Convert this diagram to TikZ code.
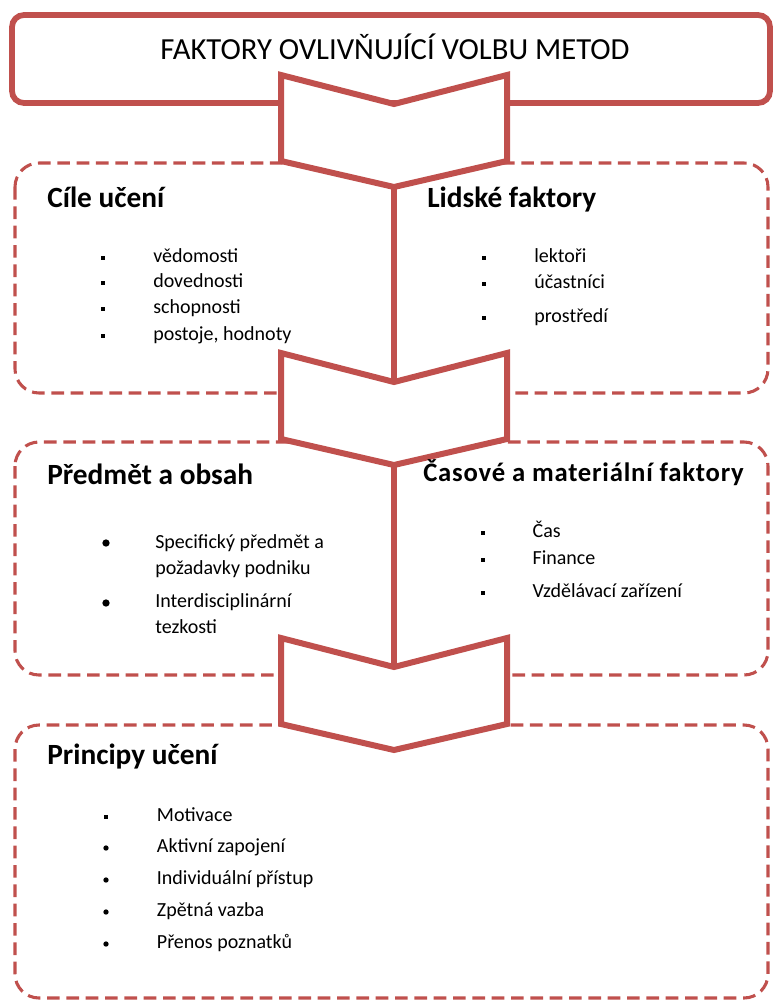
\documentclass[tikz,border=0pt]{standalone}
\usepackage{fontspec}
\setmainfont{Carlito}
\usetikzlibrary{positioning}

\definecolor{accred}{HTML}{C0504D}

\tikzset{
    titlebox/.style={draw=accred, line width=4.3pt, rounded corners=9pt},
    group/.style={draw=accred, line width=2.3pt, dash pattern=on 9.5pt off 5pt, rounded corners=18pt},
    chevron/.style={draw=accred, line width=4.5pt, fill=white, line join=miter},
    spine/.style={draw=accred, line width=4.3pt},
    title/.style={font=\fontsize{23}{27}\selectfont, inner sep=0pt},
    heading/.style={anchor=west, font=\bfseries\fontsize{22}{26}\selectfont, inner sep=0pt, text height=15pt, text depth=4pt},
    subheading/.style={anchor=west, font=\bfseries\fontsize{20}{24}\selectfont\addfontfeatures{LetterSpace=3}, inner sep=0pt, text height=13pt, text depth=4pt},
    item/.style={anchor=west, font=\fontsize{15}{19.5}\selectfont, inner sep=0pt, text height=10pt, text depth=3.5pt},
    longitem/.style={anchor=north west, align=left, font=\fontsize{15}{19.5}\selectfont, inner sep=0pt},
    sqbullet/.style={rectangle, fill=black, inner sep=0pt, minimum size=3.2pt},
    dotbullet/.style={circle, fill=black, inner sep=0pt, minimum size=4pt},
    bigdot/.style={circle, fill=black, inner sep=0pt, minimum size=5.5pt}
}

\begin{document}
\begin{tikzpicture}[x=0.75pt, y=-0.75pt]
    \useasboundingbox (0,0) rectangle (773,1001);

    % title box
    \draw[titlebox] (12,15) rectangle (770,103);
    \node[title] (title) at (395,47) {FAKTORY OVLIVŇUJÍCÍ VOLBU METOD};

    % groups
    \foreach \top/\bot in {163/393, 442/675, 725/998}{
        \draw[group] (15,\top) rectangle (768,\bot);
    }

    % chevrons
    \foreach \n/\top in {1/75, 2/353, 3/638}{
        \draw[chevron] (281,\top) -- (394,\top+29) -- (507,\top) -- (507,\top+86)
            -- (394,\top+112) -- (281,\top+86) -- cycle;
        \coordinate (notch\n) at (394,\top+29);
        \coordinate (tip\n) at (394,\top+112);
    }

    % spine
    \draw[spine] (tip1) -- (notch2);
    \draw[spine] (tip2) -- (notch3);

    % Cile uceni
    \node[heading] (cile) at (47,200) {Cíle učení};
    \foreach \y/\txt [count=\k] in {258/vědomosti, 283/dovednosti, 309/schopnosti, 336/{postoje, hodnoty}}{
        \node[sqbullet] (cb\k) at (103,\y) {};
        \node[item, right=37.5pt of cb\k.center] (ci\k) {\txt};
    }

    % Lidske faktory
    \node[heading] (lidske) at (427,200) {Lidské faktory};
    \foreach \y/\txt [count=\k] in {258/lektoři, 284/účastníci, 318/prostředí}{
        \node[sqbullet] (lb\k) at (484,\y) {};
        \node[item, right=37.5pt of lb\k.center] (li\k) {\txt};
    }

    % Predmet a obsah
    \node[heading] (predmet) at (47,477) {Předmět a obsah};
    \node[bigdot] (pb1) at (106,543) {};
    \node[longitem] (pi1) at (155,534) {Specifický předmět a\\požadavky podniku};
    \node[bigdot] (pb2) at (106,603) {};
    \node[longitem] (pi2) at (155,593) {Interdisciplinární\\tezkosti};

    % Casove a materialni faktory
    \node[subheading] (casove) at (423,475) {Časové a materiální faktory};
    \foreach \y/\txt [count=\k] in {533/Čas, 560/Finance, 593/Vzdělávací zařízení}{
        \node[sqbullet] (mb\k) at (483,\y) {};
        \node[item, right=37pt of mb\k.center] (mi\k) {\txt};
    }

    % Principy uceni
    \node[heading] (principy) at (47,757) {Principy učení};
    \node[sqbullet] (ub1) at (106,817) {};
    \node[item, right=38pt of ub1.center] (ui1) {Motivace};
    \foreach \y/\txt [count=\k from 2] in {848/Aktivní zapojení, 880/Individuální přístup, 912/Zpětná vazba, 944/Přenos poznatků}{
        \node[dotbullet] (ub\k) at (106,\y) {};
        \node[item, right=38pt of ub\k.center] (ui\k) {\txt};
    }
\end{tikzpicture}
\end{document}
